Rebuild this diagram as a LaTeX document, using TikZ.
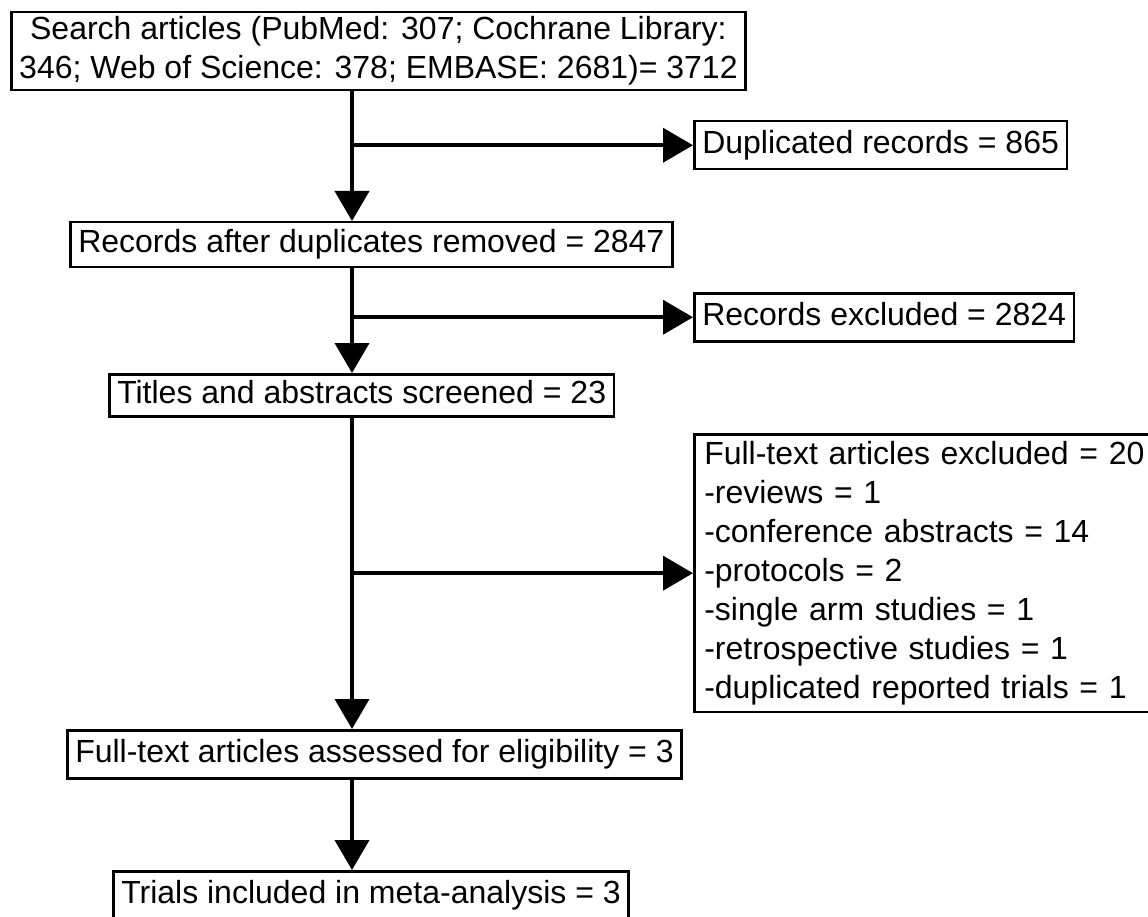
\documentclass[tikz,border=0pt]{standalone}
\usepackage{fontspec}
\setmainfont{Liberation Sans}
\usepackage{tikz}
\usetikzlibrary{arrows.meta}
\tikzstyle{box} = [rectangle, draw=black, line width=2.5pt, anchor=north west, inner xsep=8pt, inner ysep=9pt, text height=23pt, text depth=7pt]
\tikzstyle{listbox} = [rectangle, draw=black, line width=2.5pt, anchor=north west, inner xsep=10pt, inner ysep=7pt, align=left]
\tikzstyle{arrow} = [line width=4pt, -{Triangle[length=30pt,width=34pt]}]

\begin{document}
\begin{tikzpicture}[x=1pt, y=-1pt]
			\fontsize{32}{39}\selectfont
			\useasboundingbox (0,0) rectangle (1148,917);
			\coordinate (trunk) at (352,0);
			\node (search) [listbox, align=center, inner xsep=8pt, inner ysep=4.5pt] at (10,11) {Search articles (PubMed: 307; Cochrane Library:\\346; Web of Science: 378; EMBASE: 2681)= 3712};
			\node (dup) [box] at (693,120) {Duplicated records = 865};
			\node (records) [box, inner ysep=7.5pt] at (69,221) {Records after duplicates removed = 2847};
			\node (excl) [box] at (693,292) {Records excluded = 2824};
			\node (titles) [box, inner ysep=6pt] at (108,373) {Titles and abstracts screened = 23};
			\node (ftexcl) [listbox, text width=448pt] at (693,433) {Full-text articles excluded = 20\\-reviews = 1\\-conference abstracts = 14\\-protocols = 2\\-single arm studies = 1\\-retrospective studies = 1\\-duplicated reported trials = 1};
			\node (assess) [box] at (66,729) {Full-text articles assessed for eligibility = 3};
			\node (trials) [box] at (112,870) {Trials included in meta-analysis = 3};
			\draw [arrow] (search.south -| trunk) -- (records.north -| trunk);
			\draw [arrow] (trunk |- dup.west) -- (dup.west);
			\draw [arrow] (records.south -| trunk) -- (titles.north -| trunk);
			\draw [arrow] (trunk |- excl.west) -- (excl.west);
			\draw [arrow] (titles.south -| trunk) -- (assess.north -| trunk);
			\draw [arrow] (trunk |- ftexcl.west) -- (ftexcl.west);
			\draw [arrow] (assess.south -| trunk) -- (trials.north -| trunk);
		\end{tikzpicture}
\end{document}
